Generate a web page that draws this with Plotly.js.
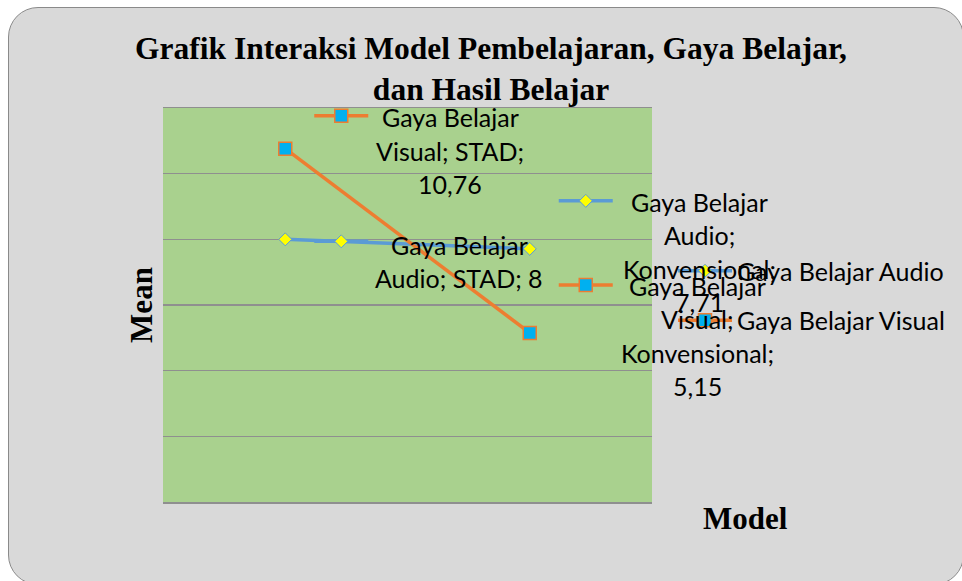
<!DOCTYPE html>
<html>
<head>
<meta charset="utf-8">
<script src="https://cdn.plot.ly/plotly-3.0.1.min.js"></script>
<style>
  html, body { margin: 0; padding: 0; background: #ffffff; }
  #frame { position: absolute; left: 8px; top: 7px; width: 956px; height: 578px;
           background: #d9d9d9; border: 1px solid #8a8a8a; border-radius: 30px; box-sizing: border-box; }
  #chart { position: absolute; left: 0; top: 0; width: 962px; height: 581px; }
</style>
</head>
<body>
<div id="frame"></div>
<div id="chart"></div>
<script>
// ---- data ----
var categories = ['STAD', 'Konvensional'];
var seriesNames = ['Gaya Belajar Audio', 'Gaya Belajar Visual'];
var audioValues = [8, 7.71];
var visualValues = [10.76, 5.15];
var chartTitle = 'Grafik Interaksi Model Pembelajaran, Gaya Belajar,<br>dan Hasil Belajar';
var yTitle = 'Mean';
var xTitle = 'Model';
// data label lines (Excel style "series; category; value"), as wrapped in the picture
var audioLabelLines = [['Gaya Belajar', 'Audio; STAD; 8'], ['Gaya Belajar', 'Audio;', 'Konvensional;', '7,71']];
var visualLabelLines = [['Gaya Belajar', 'Visual; STAD;', '10,76'], ['Gaya Belajar', 'Visual;', 'Konvensional;', '5,15']];

// ---- styles ----
var AUDIO_LINE = '#5b9bd5', AUDIO_FILL = '#ffff00';
var VIS_LINE = '#ed7d31', VIS_FILL = '#00b0f0';
var LABEL_FONT = {family: 'Lato, sans-serif', size: 25, color: '#000000'};
var SERIF_BOLD = {family: '"Liberation Serif", "Times New Roman", serif', size: 31, color: '#000000', weight: 'bold'};
var TITLE_FONT = {family: '"Liberation Serif", "Times New Roman", serif', size: 31.5, color: '#000000', weight: 'bold'};

var traces = [
  {x: categories, y: audioValues, name: seriesNames[0], type: 'scatter', mode: 'lines+markers',
   legendgroup: 'a', line: {color: AUDIO_LINE, width: 3.5},
   marker: {symbol: 'diamond', size: 10, color: AUDIO_FILL, line: {color: AUDIO_LINE, width: 1}}},
  {x: categories, y: visualValues, name: seriesNames[1], type: 'scatter', mode: 'lines+markers',
   legendgroup: 'v', line: {color: VIS_LINE, width: 3.5},
   marker: {symbol: 'square', size: 13, color: VIS_FILL, line: {color: VIS_LINE, width: 1.5}}}
];

// label placement offsets (pixels) relative to each point
var audioLabelPos = [{dx: 174, dy: -22, key: {dx: 56, dy: -2}}, {dx: 170, dy: -3, key: {dx: 56, dy: 48}}];
var visualLabelPos = [{dx: 165, dy: -2, key: {dx: 56, dy: 33}}, {dx: 168, dy: -3, key: {dx: 56, dy: 48}}];
var LINE_H = 33.5;

var annotations = [];
var shapes = [];
function addLabels(values, lines, pos, isAudio) {
  for (var i = 0; i < categories.length; i++) {
    var L = lines[i], p = pos[i];
    var n = L.length;
    for (var k = 0; k < n; k++) {
      var off = ((n - 1) / 2 - k) * LINE_H;
      annotations.push({x: categories[i], y: values[i], xref: 'x', yref: 'y', showarrow: false,
        text: L[k], font: LABEL_FONT, xanchor: 'center', yanchor: 'middle',
        xshift: p.dx, yshift: p.dy + off});
    }
    // legend key inside data label
    var kx = p.key.dx, ky = p.key.dy;
    var lc = isAudio ? AUDIO_LINE : VIS_LINE;
    shapes.push({type: 'line', xref: 'x', yref: 'y', xsizemode: 'pixel', ysizemode: 'pixel',
      xanchor: categories[i], yanchor: values[i], x0: kx - 27, x1: kx + 27, y0: ky, y1: ky,
      line: {color: lc, width: 3.5}});
    if (isAudio) {
      shapes.push({type: 'path', xref: 'x', yref: 'y', xsizemode: 'pixel', ysizemode: 'pixel',
        xanchor: categories[i], yanchor: values[i],
        path: 'M' + kx + ',' + (ky + 6.5) + ' L' + (kx + 6.5) + ',' + ky + ' L' + kx + ',' + (ky - 6.5) + ' L' + (kx - 6.5) + ',' + ky + ' Z',
        fillcolor: AUDIO_FILL, line: {color: AUDIO_LINE, width: 1}});
    } else {
      shapes.push({type: 'rect', xref: 'x', yref: 'y', xsizemode: 'pixel', ysizemode: 'pixel',
        xanchor: categories[i], yanchor: values[i], x0: kx - 6.5, x1: kx + 6.5, y0: ky - 6.5, y1: ky + 6.5,
        fillcolor: VIS_FILL, line: {color: VIS_LINE, width: 1.5}});
    }
  }
}
addLabels(audioValues, audioLabelLines, audioLabelPos, true);
addLabels(visualValues, visualLabelLines, visualLabelPos, false);

var L0 = 163, R0 = 310, T0 = 108, B0 = 79;
var pw = 962 - L0 - R0, ph = 581 - T0 - B0;
annotations.push({x: (745 - L0) / pw, y: (581 - B0 - 518) / ph, xref: 'paper', yref: 'paper',
  xanchor: 'center', yanchor: 'middle', showarrow: false, text: xTitle, font: SERIF_BOLD});

var layout = {
  width: 962, height: 581,
  margin: {l: L0, r: R0, t: T0, b: B0},
  paper_bgcolor: 'rgba(0,0,0,0)',
  plot_bgcolor: '#a9d18e',
  title: {text: chartTitle, font: TITLE_FONT, x: 491 / 962, xref: 'container', xanchor: 'center',
          y: 1 - 59 / 581, yref: 'container', yanchor: 'middle'},
  xaxis: {type: 'category', range: [-0.5, 1.5], showticklabels: false, showgrid: false, zeroline: false,
          showline: true, mirror: true, linecolor: '#8f8f8f', linewidth: 1.5, ticks: ''},
  yaxis: {range: [0, 12], dtick: 2, showticklabels: false, showgrid: true, gridcolor: '#8f8f8f', gridwidth: 1.5,
          zeroline: false, showline: false, ticks: '',
          title: {text: yTitle, font: SERIF_BOLD, standoff: 0}},
  showlegend: true,
  legend: {x: (673 - L0) / pw, xanchor: 'left', y: (581 - B0 - 295.5) / ph, yanchor: 'middle',
           bgcolor: 'rgba(0,0,0,0)', font: LABEL_FONT, itemwidth: 54, traceorder: 'grouped', tracegroupgap: 14},
  annotations: annotations,
  shapes: shapes
};

Plotly.newPlot('chart', traces, layout, {displayModeBar: false, staticPlot: true});
</script>
</body>
</html>
